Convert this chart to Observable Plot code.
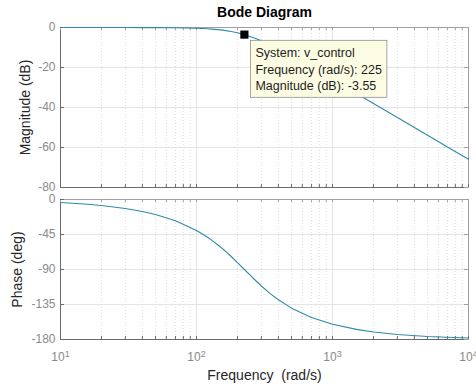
<!DOCTYPE html>
<html><head><meta charset="utf-8">
<script src="https://cdn.jsdelivr.net/npm/d3@7"></script>
<script src="https://cdn.jsdelivr.net/npm/@observablehq/plot@0.6"></script>
<style>
html,body{margin:0;padding:0;background:#fff;overflow:hidden}
#chart{position:relative;width:476px;height:388px;font-family:"Liberation Sans",Arial,Helvetica,sans-serif}
#chart svg{position:absolute;left:0;overflow:visible}
#chart text{white-space:pre}
</style></head><body><div id="chart"></div>
<script>
// ---- data ----
const freq      = [10, 15, 20, 30, 40, 50, 70, 100, 120, 130, 150, 160, 180, 200, 225, 260, 300, 350, 400, 500, 700, 1000, 1500, 2000, 3000, 5000, 7000, 10000];
const magnitude = [0.00, -0.01, -0.01, -0.02, -0.04, -0.07, -0.15, -0.38, -0.63, -0.79, -1.19, -1.43, -1.98, -2.63, -3.55, -4.96, -6.65, -8.74, -10.73, -14.26, -19.88, -25.98, -32.98, -37.97, -45.00, -53.87, -59.72, -65.91];
const phase     = [-3.8, -5.8, -7.7, -11.5, -15.4, -19.4, -27.4, -39.8, -48.3, -52.5, -61.0, -65.2, -73.3, -81.1, -90.0, -100.9, -111.2, -121.3, -128.9, -139.7, -151.7, -160.4, -167.0, -170.3, -173.5, -176.1, -177.2, -178.1];
const magTicks    = [-80, -60, -40, -20, 0];
const phaseTicks  = [-180, -135, -90, -45, 0];
const decadeTicks = [10, 100, 1000, 10000];
const minorTicks  = [20,30,40,50,60,70,80,90,200,300,400,500,600,700,800,900,2000,3000,4000,5000,6000,7000,8000,9000];
const tipSystem = "v_control", tipFreq = 225, tipMag = -3.55;
const titleText = "Bode Diagram";
const magLabel = "Magnitude (dB)", phaseLabel = "Phase (deg)", freqLabel = "Frequency  (rad/s)";

// ---- styling ----
const fontFamily = '"Liberation Sans", Arial, Helvetica, sans-serif';
const lineColor = "#2f8aab";
const gridColor = "#e4e4e4";
const minorGridColor = "#dddddd";
const tickLabelColor = "#8a8a8a";
const W = 476, ML = 60, MR = 8;
const innerW = W - ML - MR;

const magData = freq.map((f, i) => ({freq: f, value: magnitude[i]}));
const phaseData = freq.map((f, i) => ({freq: f, value: phase[i]}));

function panel({data, yTicks, yLabel, labelDx, height, marginTop, marginBottom, bottomAxis, extra}) {
  const innerH = height - marginTop - marginBottom;
  const yMin = yTicks[0], yMax = yTicks[yTicks.length - 1];
  const marks = [
    Plot.ruleX(minorTicks, {stroke: minorGridColor, strokeDasharray: "1,2"}),
    Plot.ruleX(decadeTicks, {stroke: gridColor}),
    Plot.ruleY(yTicks, {stroke: gridColor}),
    Plot.frame({stroke: "#a0a0a0"}),
    Plot.ruleX([10], {stroke: "#6a6a6a"}),
    Plot.ruleY([yMin], {stroke: "#6a6a6a"}),
    Plot.tickX(decadeTicks.concat(minorTicks), {stroke: "#6a6a6a", insetTop: innerH - 3}),
    Plot.tickX(decadeTicks.concat(minorTicks), {stroke: "#a0a0a0", insetBottom: innerH - 3}),
    Plot.tickY(yTicks, {stroke: "#6a6a6a", insetRight: innerW - 4}),
    Plot.tickY(yTicks, {stroke: "#a0a0a0", insetLeft: innerW - 4}),
    Plot.line(data, {x: "freq", y: "value", stroke: lineColor, strokeWidth: 1.1}),
    Plot.axisY(yTicks, {tickSize: 0, tickPadding: 5, tickFormat: d => String(d), fill: tickLabelColor, fontSize: 12, label: null}),
    Plot.text([yLabel], {frameAnchor: "left", textAnchor: "middle", lineAnchor: "middle", dx: labelDx, rotate: -90, fontSize: 14, fill: "#262626"})
  ];
  if (bottomAxis) {
    marks.push(Plot.axisX(decadeTicks, {tickSize: 0, tickPadding: 13, tickFormat: d => "10^" + Math.round(Math.log10(d)), fill: tickLabelColor, fontSize: 12, label: null}));
    marks.push(Plot.text([freqLabel], {frameAnchor: "bottom", textAnchor: "middle", lineAnchor: "middle", dy: 36, fontSize: 14, fill: "#262626"}));
  }
  if (extra) marks.push(...extra);
  return Plot.plot({
    width: W, height, marginTop, marginBottom, marginLeft: ML, marginRight: MR,
    style: {fontFamily, background: "transparent", overflow: "visible"},
    x: {type: "log", domain: [10, 10000], axis: null},
    y: {domain: [yMin, yMax], axis: null},
    marks
  });
}

const tip = [{freq: tipFreq, mag: tipMag, system: tipSystem}];
const magPlot = panel({
  data: magData, yTicks: magTicks, yLabel: magLabel, labelDx: -35,
  height: 190, marginTop: 27, marginBottom: 3, bottomAxis: false,
  extra: [
    Plot.text([titleText], {frameAnchor: "top", textAnchor: "middle", lineAnchor: "middle", dy: -15, fontSize: 14, fontWeight: "bold", fill: "#000"}),
    Plot.dot(tip, {x: "freq", y: "mag", symbol: "square", r: 4.6, fill: "#000", stroke: "none"}),
    Plot.text(tip, {x: "freq", y: "mag",
      text: d => `System: ${d.system}\nFrequency (rad/s): ${d.freq}\nMagnitude (dB): ${d.mag}`,
      textAnchor: "start", lineAnchor: "top", dx: 11, dy: 11, fontSize: 12.5, lineHeight: 1.32, fill: "#1e1e1e"})
  ]
});
const phasePlot = panel({
  data: phaseData, yTicks: phaseTicks, yLabel: phaseLabel, labelDx: -43,
  height: 198, marginTop: 9, marginBottom: 49, bottomAxis: true
});

const chart = document.getElementById("chart");
magPlot.style.top = "0px";
phasePlot.style.top = "190px";
chart.appendChild(magPlot);
chart.appendChild(phasePlot);

// superscript exponents on the frequency tick labels
d3.select(phasePlot).selectAll("text").each(function() {
  const t = this.textContent;
  if (t.startsWith("10^")) {
    const [b, e] = t.split("^");
    this.textContent = "";
    d3.select(this).append("tspan").text(b);
    d3.select(this).append("tspan").attr("dy", "-0.5em").attr("font-size", "9px").text(e);
  }
});

// datatip box behind the text
d3.select(magPlot).selectAll("text").each(function() {
  if (this.textContent.startsWith("System:")) {
    const g = this.parentNode;
    const bb = this.getBBox();
    d3.select(g).insert("rect", ":first-child")
      .attr("transform", this.getAttribute("transform"))
      .attr("x", bb.x - 5).attr("y", bb.y - 6)
      .attr("width", bb.width + 10).attr("height", bb.height + 10)
      .attr("fill", "#fcfce3").attr("stroke", "#8e8e8e").attr("stroke-width", 0.8);
  }
});
</script></body></html>
